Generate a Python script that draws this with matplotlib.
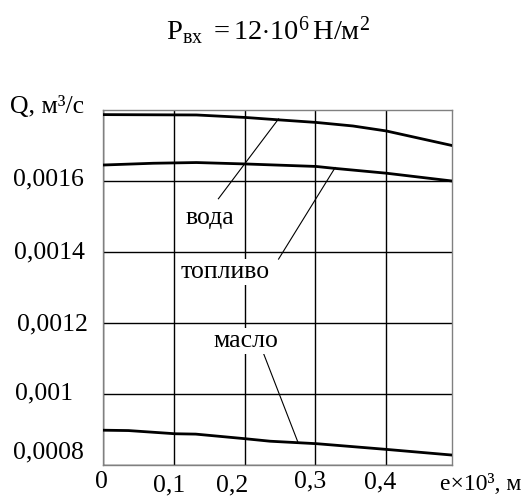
import matplotlib
matplotlib.use("Agg")
import matplotlib.pyplot as plt

plt.rcParams['font.family'] = ['Liberation Serif', 'DejaVu Serif']
plt.rcParams['mathtext.fontset'] = 'custom'
plt.rcParams['mathtext.rm'] = 'Liberation Serif'
plt.rcParams['mathtext.it'] = 'Liberation Serif:italic'

# ---- data ----
x_water = [0.0, 0.132, 0.201, 0.250, 0.301, 0.353, 0.400, 0.493]
q_water = [0.001787, 0.001786, 0.001779, 0.001772, 0.001765, 0.001755, 0.001741, 0.00170]

x_fuel = [0.0, 0.071, 0.132, 0.201, 0.301, 0.325, 0.400, 0.493]
q_fuel = [0.001645, 0.00165, 0.001652, 0.001648, 0.001641, 0.001636, 0.001622, 0.00160]

x_oil = [0.0, 0.036, 0.102, 0.131, 0.201, 0.236, 0.302, 0.400, 0.493]
q_oil = [0.000898, 0.000897, 0.000888, 0.000887, 0.000874, 0.000867, 0.00086, 0.000844, 0.000828]

labels = ['вода', 'топливо', 'масло']
label_pos = [(0.151, 0.001495), (0.173, 0.001344), (0.202, 0.00115)]
leader_from = [(0.163, 0.00155), (0.248, 0.00138), (0.227, 0.001113)]
leader_to = [(0.248, 0.001775), (0.328, 0.001638), (0.275, 0.000866)]

xticks = [0.0, 0.1, 0.2, 0.3, 0.4]
xtick_labels = ['0', '0,1', '0,2', '0,3', '0,4']
yticks = [0.0008, 0.001, 0.0012, 0.0014, 0.0016]
ytick_labels = ['0,0008', '0,001', '0,0012', '0,0014', '0,0016']

title = r'$\mathrm{P}_{\mathrm{вх}}\ {=}12{\cdot}10^{6}\,\mathrm{Н/м}^{2}$'
ylabel = 'Q, м³/с'
xlabel = 'e×10³, м'

# ---- layout ----
W, H = 529, 496
FS = 18.5
fig = plt.figure(figsize=(W / 100, H / 100), dpi=100)
ax = fig.add_axes([103 / W, 31 / H, (452 - 103) / W, (465 - 110) / H])
ax.set_xlim(0, 0.493)
ax.set_ylim(0.0008, 0.0018)

ax.set_xticks(xticks)
ax.set_yticks(yticks)
ax.set_xticklabels([])
ax.set_yticklabels([])
ax.tick_params(length=0)
ax.grid(True, color='black', linewidth=1.0)
ax.set_axisbelow(True)
for s in ax.spines.values():
    s.set_color('#808080')
    s.set_linewidth(1.0)

for xs, qs in [(x_water, q_water), (x_fuel, q_fuel), (x_oil, q_oil)]:
    ax.plot(xs, qs, color='black', linewidth=2.0, zorder=3)

for (x0, y0), (x1, y1) in zip(leader_from, leader_to):
    ax.plot([x0, x1], [y0, y1], color='black', linewidth=0.8, zorder=3)

for lab, (lx, ly) in zip(labels, label_pos):
    ax.text(lx, ly, lab, fontsize=FS, ha='center', va='center', zorder=4,
            bbox=dict(facecolor='white', edgecolor='none', pad=1.5))

# x tick labels (pixel offsets: dx from tick, baseline below axes bottom)
x_off = [(-2, -23), (-5, -26), (-12, -26), (-5, -22), (-6, -23)]
for v, lab, (dx, dy) in zip(xticks, xtick_labels, x_off):
    ax.annotate(lab, xy=(v, 0), xycoords=('data', 'axes fraction'),
                xytext=(dx, dy), textcoords='offset pixels',
                ha='center', va='baseline', fontsize=FS, annotation_clip=False)

# y tick labels: left aligned near figure edge, baseline offsets from grid line
y_off = [6.5, -5.2, -7.5, -6.7, -4]
y_left = [13.3, 15, 17, 14, 13.3]
for v, lab, dy, lx in zip(yticks, ytick_labels, y_off, y_left):
    ax.annotate(lab, xy=(0, v), xycoords=('axes fraction', 'data'),
                xytext=(lx - 103, dy), textcoords='offset pixels',
                ha='left', va='baseline', fontsize=FS, annotation_clip=False)

fig.text(10 / W, 1 - 113 / H, ylabel, ha='left', va='baseline', fontsize=FS)
fig.text(481 / W, 1 - 490 / H, xlabel, ha='center', va='baseline', fontsize=17)
fig.text(268 / W, 1 - 39.5 / H, title, ha='center', va='baseline', fontsize=20.5)

fig.savefig('out.png', dpi=100)
